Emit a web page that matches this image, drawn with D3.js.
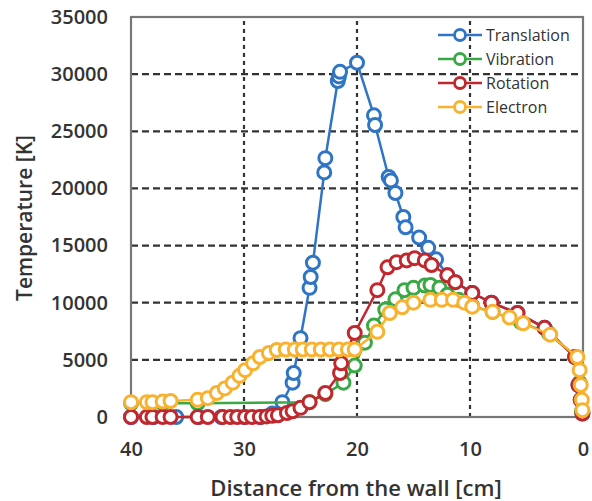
<!DOCTYPE html>
<html>
<head>
<meta charset="utf-8">
<script src="https://cdn.jsdelivr.net/npm/d3@7"></script>
<style>
  body { margin: 0; background: #fff; }
  text { font-family: "Open Sans", "Liberation Sans", sans-serif; fill: #333; }
</style>
</head>
<body>
<div class="canvas"></div>
<script>
// Data
const seriesNames = ['Translation', 'Vibration', 'Rotation', 'Electron'];
const xTicks = [40, 30, 20, 10, 0];
const yTicks = [0, 5000, 10000, 15000, 20000, 25000, 30000, 35000];

const rotDist = [40, 38.6, 38.1, 37.2, 36.5, 34.1, 33.2, 31.9, 31.2, 30.6, 29.9, 29.3, 28.6, 28.0, 27.5, 27.0, 26.2, 25.7, 25.0, 24.2, 22.8, 21.5, 21.4, 20.2, 18.2, 17.3, 16.5, 15.6, 14.9, 14.0, 13.4, 12.0, 11.3, 9.8, 8.1, 5.8, 3.4, 0.7, 0.4, 0.2, 0.05];
const rotTemp = [0, 0, 0, 0, 0, 0, 0, 0, 0, 0, 0, 0, 0, 50, 100, 150, 350, 500, 800, 1300, 2100, 3850, 4700, 7350, 11100, 13100, 13550, 13700, 13900, 13700, 13300, 12400, 11800, 10850, 10000, 9100, 7800, 5250, 2800, 1500, 300];

const transDist = [40, 38, 36, 34, 32, 30, 28.5, 27.5, 26.6, 25.7, 25.6, 25.0, 24.2, 24.1, 23.9, 22.9, 22.8, 21.7, 21.6, 21.5, 20.0, 18.5, 18.4, 17.2, 17.0, 16.6, 15.9, 15.7, 14.5, 13.7, 13.0, 12.0, 11.3, 9.8, 8.1, 5.8, 3.4, 0.7, 0.4, 0.2, 0.05];
const transTemp = [0, 0, 0, 0, 0, 0, 0, 300, 1300, 3000, 3850, 6900, 11300, 12250, 13500, 21400, 22650, 29400, 29800, 30200, 31000, 26400, 25550, 21000, 20700, 19600, 17500, 16600, 15700, 14800, 13800, 12400, 11800, 10850, 10000, 9100, 7800, 5250, 2800, 1500, 300];

const vibDist = [40, 37.2, 34.1, 24.2, 22.8, 21.2, 20.2, 19.3, 18.5, 17.5, 16.6, 15.8, 15.0, 14.0, 13.5, 12.7, 12.0, 11.0, 9.8, 8.0, 5.5, 3.0, 0.6, 0.3, 0.1];
const vibTemp = [1200, 1200, 1200, 1300, 2000, 3000, 4500, 6500, 8000, 9400, 10300, 11100, 11300, 11500, 11550, 11300, 10700, 10250, 9700, 9200, 8300, 7300, 5200, 3000, 500];

const elecDist = [40, 38.6, 38.1, 37.2, 36.5, 34.1, 33.2, 32.4, 31.7, 31.0, 30.4, 29.9, 29.2, 28.6, 27.8, 27.1, 26.3, 25.5, 24.8, 24.0, 23.2, 22.4, 21.6, 20.8, 20.2, 18.2, 17.1, 16.0, 15.0, 13.5, 12.5, 11.5, 10.5, 9.8, 8.0, 6.5, 5.3, 2.9, 0.5, 0.3, 0.2, 0.1, 0.05];
const elecTemp = [1300, 1300, 1300, 1350, 1400, 1500, 1650, 2100, 2500, 3000, 3600, 4100, 4700, 5250, 5600, 5860, 5900, 5900, 5900, 5900, 5900, 5900, 5900, 5900, 5900, 7450, 9100, 9600, 10000, 10250, 10250, 10250, 10000, 9650, 9200, 8700, 8200, 7200, 5250, 4100, 2800, 1500, 600];

const colors = ['#2f75c4', '#3aa845', '#c0282e', '#f8b230'];

const zip = (xs, ys) => xs.map((x, i) => ({ x, y: ys[i] }));
const series = [
    { name: seriesNames[0], color: colors[0], values: zip(transDist, transTemp) },
    { name: seriesNames[1], color: colors[1], values: zip(vibDist, vibTemp) },
    { name: seriesNames[2], color: colors[2], values: zip(rotDist, rotTemp) },
    { name: seriesNames[3], color: colors[3], values: zip(elecDist, elecTemp) }
];

const width = 592, height = 501;
const margin = { left: 131, right: 9, top: 17, bottom: 84 };
const innerW = width - margin.left - margin.right;
const innerH = height - margin.top - margin.bottom;

const svg = d3.select('.canvas')
    .append('svg')
    .attr('width', width)
    .attr('height', height);

const x = d3.scaleLinear().domain([40, 0]).range([margin.left, margin.left + innerW]);
const y = d3.scaleLinear().domain([0, 35000]).range([margin.top + innerH, margin.top]);

// dashed grid
svg.append('g')
    .selectAll('line')
    .data(yTicks.filter(t => t > 0 && t < 35000))
    .join('line')
    .attr('x1', x(40)).attr('x2', x(0))
    .attr('y1', d => y(d)).attr('y2', d => y(d))
    .attr('stroke', '#333').attr('stroke-width', 2.2)
    .attr('stroke-dasharray', '7,4');

svg.append('g')
    .selectAll('line')
    .data(xTicks.filter(t => t > 0 && t < 40))
    .join('line')
    .attr('x1', d => x(d)).attr('x2', d => x(d))
    .attr('y1', y(0)).attr('y2', y(35000))
    .attr('stroke', '#333').attr('stroke-width', 2.2)
    .attr('stroke-dasharray', '4,4');

// frame
svg.append('rect')
    .attr('x', x(40)).attr('y', y(35000))
    .attr('width', x(0) - x(40)).attr('height', y(0) - y(35000))
    .attr('fill', 'none').attr('stroke', '#777').attr('stroke-width', 2.2);

// axes (labels only)
const xAxis = svg.append('g')
    .attr('transform', `translate(0, ${y(0)})`)
    .call(d3.axisBottom(x).tickValues(xTicks).tickSize(0).tickPadding(25));
const yAxis = svg.append('g')
    .attr('transform', `translate(${x(40)}, 0)`)
    .call(d3.axisLeft(y).tickValues(yTicks).tickSize(0).tickPadding(23).tickFormat(d3.format('d')));
[xAxis, yAxis].forEach(a => {
    a.select('.domain').remove();
    a.selectAll('text')
        .style('font-family', '"Open Sans", sans-serif')
        .style('font-size', '20px')
        .style('font-weight', '600')
        .attr('fill', '#3a3a3a');
});

svg.append('text')
    .attr('x', 356)
    .attr('y', 496)
    .attr('text-anchor', 'middle')
    .style('font-size', '22px')
    .style('font-weight', '600')
    .text('Distance from the wall [cm]');

svg.append('text')
    .attr('transform', `translate(32, 218) rotate(-90)`)
    .attr('text-anchor', 'middle')
    .style('font-size', '21px')
    .style('font-weight', '600')
    .text('Temperature [K]');

// series
const line = d3.line().x(d => x(d.x)).y(d => y(d.y));

const groups = svg.append('g')
    .selectAll('g')
    .data(series)
    .join('g');

groups.append('path')
    .attr('d', d => line(d.values))
    .attr('fill', 'none')
    .attr('stroke', d => d.color)
    .attr('stroke-width', 2.5);

groups.each(function (s) {
    d3.select(this).selectAll('circle')
        .data(s.values)
        .join('circle')
        .attr('cx', d => x(d.x))
        .attr('cy', d => y(d.y))
        .attr('r', 6.5)
        .attr('fill', '#fff')
        .attr('stroke', s.color)
        .attr('stroke-width', 3);
});

// legend
const legend = svg.append('g')
    .selectAll('g')
    .data(series)
    .join('g')
    .attr('transform', (d, i) => `translate(438, ${35 + i * 24})`);

legend.append('line')
    .attr('x1', 0).attr('x2', 44)
    .attr('stroke', d => d.color).attr('stroke-width', 2.5);
legend.append('circle')
    .attr('cx', 22).attr('r', 5.5)
    .attr('fill', '#fff')
    .attr('stroke', d => d.color).attr('stroke-width', 2.8);
legend.append('text')
    .attr('x', 48).attr('dy', '0.35em')
    .style('font-size', '16px')
    .text(d => d.name);
</script>
</body>
</html>
